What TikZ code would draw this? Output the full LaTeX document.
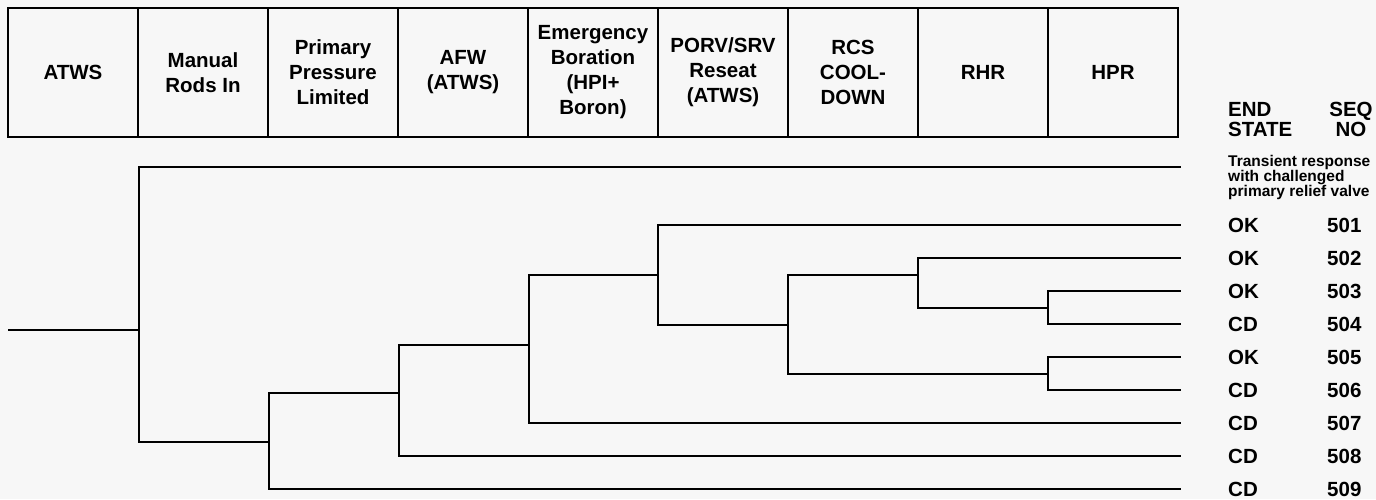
\documentclass[tikz,border=0pt]{standalone}
\usepackage{fontspec}
\setmainfont{Liberation Sans}
\usetikzlibrary{positioning}
\definecolor{paper}{RGB}{247,247,247}

\begin{document}
\begin{tikzpicture}[x=1pt,y=-1pt,
  hdr/.style={draw,line width=2.6pt,outer sep=0pt,inner sep=0pt,minimum width=130pt,minimum height=129pt,align=center,font=\fontsize{20.5}{25}\selectfont\bfseries},
  lbl/.style={inner sep=0pt,font=\fontsize{20.5}{20}\selectfont\bfseries},
  branch/.style={line width=2.8pt,line cap=rect}]
  \fill[paper] (0,0) rectangle (1376,499);
  \useasboundingbox (0,0) rectangle (1376,499);
  % column headings
  \node[hdr] (atws) at (73,72.5) {ATWS};
  \node[hdr,right=0pt of atws] (rods) {Manual\\Rods In};
  \node[hdr,right=0pt of rods] (ppl) {Primary\\Pressure\\Limited};
  \node[hdr,right=0pt of ppl] (afw) {AFW\\(ATWS)};
  \node[hdr,right=0pt of afw] (ebor) {Emergency\\Boration\\(HPI+\\Boron)};
  \node[hdr,right=0pt of ebor] (porv) {PORV/SRV\\Reseat\\(ATWS)};
  \node[hdr,right=0pt of porv] (rcs) {RCS\\COOL-\\DOWN};
  \node[hdr,right=0pt of rcs] (rhr) {RHR};
  \node[hdr,right=0pt of rhr] (hpr) {HPR};
  \node[lbl,align=left,anchor=south west] (endst) at (1228,137) {END\\STATE};
  \node[lbl,align=center,anchor=south] (seqno) at (1351,137) {SEQ\\NO};
  % branch points
  \coordinate (root) at (9,330);
  \coordinate (nA) at (139,330);
  \coordinate (nB) at (269,442);
  \coordinate (nC) at (399,393);
  \coordinate (nD) at (529,345);
  \coordinate (nE) at (658,275);
  \coordinate (nF) at (788,325);
  \coordinate (nG) at (918,275);
  \coordinate (nH) at (1048,308);
  \coordinate (nI) at (1048,374);
  % sequence ends
  \coordinate (e0) at (1180,167);
  \coordinate (e1) at (1180,225);
  \coordinate (e2) at (1180,258);
  \coordinate (e3) at (1180,291);
  \coordinate (e4) at (1180,324);
  \coordinate (e5) at (1180,357);
  \coordinate (e6) at (1180,390);
  \coordinate (e7) at (1180,423);
  \coordinate (e8) at (1180,456);
  \coordinate (e9) at (1180,489);
  % tree
  \draw[branch] (root) -- (nA);
  \draw[branch] (nA) |- (e0);
  \draw[branch] (nA) |- (nB);
  \draw[branch] (nB) |- (nC);
  \draw[branch] (nB) |- (e9);
  \draw[branch] (nC) |- (nD);
  \draw[branch] (nC) |- (e8);
  \draw[branch] (nD) |- (nE);
  \draw[branch] (nD) |- (e7);
  \draw[branch] (nE) |- (e1);
  \draw[branch] (nE) |- (nF);
  \draw[branch] (nF) |- (nG);
  \draw[branch] (nF) |- (nI);
  \draw[branch] (nG) |- (e2);
  \draw[branch] (nG) |- (nH);
  \draw[branch] (nH) |- (e3);
  \draw[branch] (nH) |- (e4);
  \draw[branch] (nI) |- (e5);
  \draw[branch] (nI) |- (e6);
  % end states
  \node[lbl,align=left,anchor=north west,font=\fontsize{15.5}{15}\selectfont\bfseries] (trans) at (1228,155) {Transient response\\with challenged\\primary relief valve};
  \node[lbl,right=48pt of e1] (s1) {OK};
  \node[lbl,right=147pt of e1] (q1) {501};
  \node[lbl,right=48pt of e2] (s2) {OK};
  \node[lbl,right=147pt of e2] (q2) {502};
  \node[lbl,right=48pt of e3] (s3) {OK};
  \node[lbl,right=147pt of e3] (q3) {503};
  \node[lbl,right=48pt of e4] (s4) {CD};
  \node[lbl,right=147pt of e4] (q4) {504};
  \node[lbl,right=48pt of e5] (s5) {OK};
  \node[lbl,right=147pt of e5] (q5) {505};
  \node[lbl,right=48pt of e6] (s6) {CD};
  \node[lbl,right=147pt of e6] (q6) {506};
  \node[lbl,right=48pt of e7] (s7) {CD};
  \node[lbl,right=147pt of e7] (q7) {507};
  \node[lbl,right=48pt of e8] (s8) {CD};
  \node[lbl,right=147pt of e8] (q8) {508};
  \node[lbl,right=48pt of e9] (s9) {CD};
  \node[lbl,right=147pt of e9] (q9) {509};
\end{tikzpicture}
\end{document}
